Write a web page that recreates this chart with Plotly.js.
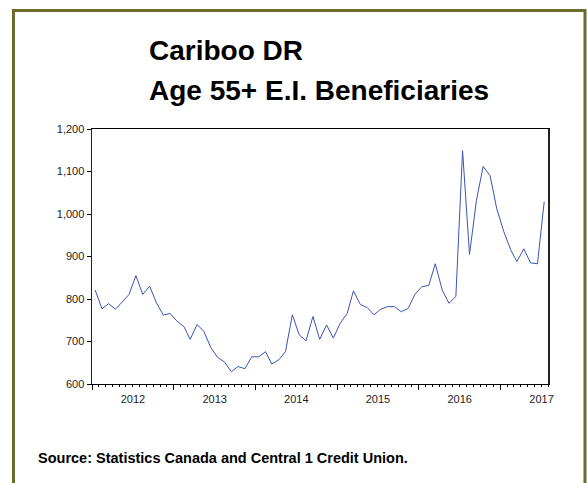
<!DOCTYPE html>
<html>
<head>
<meta charset="utf-8">
<script src="https://cdn.plot.ly/plotly-3.0.1.min.js"></script>
<style>
html,body{margin:0;padding:0;background:#fff;}
#chart{width:587px;height:483px;}
</style>
</head>
<body>
<div id="chart"></div>
<script>
// Monthly observations, Jan 2012 – Jul 2017 (mid-month dates)
const months = [
 "2012-01-15","2012-02-15","2012-03-15","2012-04-15","2012-05-15","2012-06-15",
 "2012-07-15","2012-08-15","2012-09-15","2012-10-15","2012-11-15","2012-12-15",
 "2013-01-15","2013-02-15","2013-03-15","2013-04-15","2013-05-15","2013-06-15",
 "2013-07-15","2013-08-15","2013-09-15","2013-10-15","2013-11-15","2013-12-15",
 "2014-01-15","2014-02-15","2014-03-15","2014-04-15","2014-05-15","2014-06-15",
 "2014-07-15","2014-08-15","2014-09-15","2014-10-15","2014-11-15","2014-12-15",
 "2015-01-15","2015-02-15","2015-03-15","2015-04-15","2015-05-15","2015-06-15",
 "2015-07-15","2015-08-15","2015-09-15","2015-10-15","2015-11-15","2015-12-15",
 "2016-01-15","2016-02-15","2016-03-15","2016-04-15","2016-05-15","2016-06-15",
 "2016-07-15","2016-08-15","2016-09-15","2016-10-15","2016-11-15","2016-12-15",
 "2017-01-15","2017-02-15","2017-03-15","2017-04-15","2017-05-15","2017-06-15",
 "2017-07-15"
];
const beneficiaries = [
 821, 777, 789, 776, 793, 811, 855, 811, 830, 791, 762, 766,
 748, 735, 705, 740, 724, 686, 663, 652, 629, 641, 636, 664,
 664, 676, 647, 657, 676, 763, 716, 702, 759, 705, 739, 708,
 743, 766, 819, 787, 780, 763, 776, 782, 782, 770, 778, 811,
 829, 832, 883, 821, 790, 806, 1149, 905, 1032, 1112, 1090, 1012,
 959, 916, 888, 918, 885, 883, 1029
];
const titleLines = ["Cariboo DR", "Age 55+ E.I. Beneficiaries"];
const sourceText = "Source: Statistics Canada and Central 1 Credit Union.";

const FONT = "Liberation Sans, Arial, Helvetica, sans-serif";
// plot area: left 92, right 548, top 129, bottom 384
const L = 92, R = 548, T = 129, B = 384;
const px = x => (x - L) / (R - L);
const py = y => (B - y) / (B - T);

const trace = {
  x: months, y: beneficiaries, type: "scatter", mode: "lines",
  line: {color: "#3a55b4", width: 1},
  hoverinfo: "x+y", showlegend: false
};

const layout = {
  width: 587, height: 483,
  margin: {l: L, r: 587 - R, t: T, b: 483 - B, pad: 0},
  paper_bgcolor: "#ffffff", plot_bgcolor: "#ffffff",
  font: {family: FONT, size: 11, color: "#222"},
  xaxis: {
    type: "date",
    range: ["2012-01-01", "2017-08-01"],
    tick0: "2012-01-01", dtick: "M12",
    tickformat: "%Y", ticklabelmode: "period",
    ticks: "outside", ticklen: 5, tickwidth: 1, tickcolor: "#000",
    minor: {dtick: "M1", tick0: "2012-01-01", ticks: "outside", ticklen: 2, tickcolor: "#000", showgrid: false},
    showline: true, linecolor: "#000", linewidth: 1, mirror: true,
    showgrid: false, zeroline: false,
    tickfont: {family: FONT, size: 11, color: "#222"}
  },
  yaxis: {
    range: [600, 1200], dtick: 100, tick0: 600,
    tickformat: ",d",
    ticks: "outside", ticklen: 4, tickwidth: 1, tickcolor: "#000",
    showline: true, linecolor: "#222", linewidth: 1.5, mirror: true,
    showgrid: false, zeroline: false,
    tickfont: {family: FONT, size: 11, color: "#222"}
  },
  annotations: [
    {text: "<b>" + titleLines[0] + "</b>", xref: "paper", yref: "paper",
     x: px(147), y: py(50), xanchor: "left", yanchor: "middle", showarrow: false,
     font: {family: FONT, size: 28, color: "#000"}},
    {text: "<b>" + titleLines[1] + "</b>", xref: "paper", yref: "paper",
     x: px(147), y: py(90), xanchor: "left", yanchor: "middle", showarrow: false,
     font: {family: FONT, size: 28, color: "#000"}},
    {text: "<b>" + sourceText + "</b>", xref: "paper", yref: "paper",
     x: px(36), y: py(458), xanchor: "left", yanchor: "middle", showarrow: false,
     font: {family: FONT, size: 14.5, color: "#000"}}
  ],
  shapes: [
    {type: "rect", xref: "paper", yref: "paper",
     x0: px(13.5), x1: px(585), y0: py(495), y1: py(10.5),
     line: {color: "#6b6b2c", width: 3}, fillcolor: "rgba(0,0,0,0)", layer: "above"}
  ]
};

Plotly.newPlot("chart", [trace], layout, {displayModeBar: false, staticPlot: true});
</script>
</body>
</html>
